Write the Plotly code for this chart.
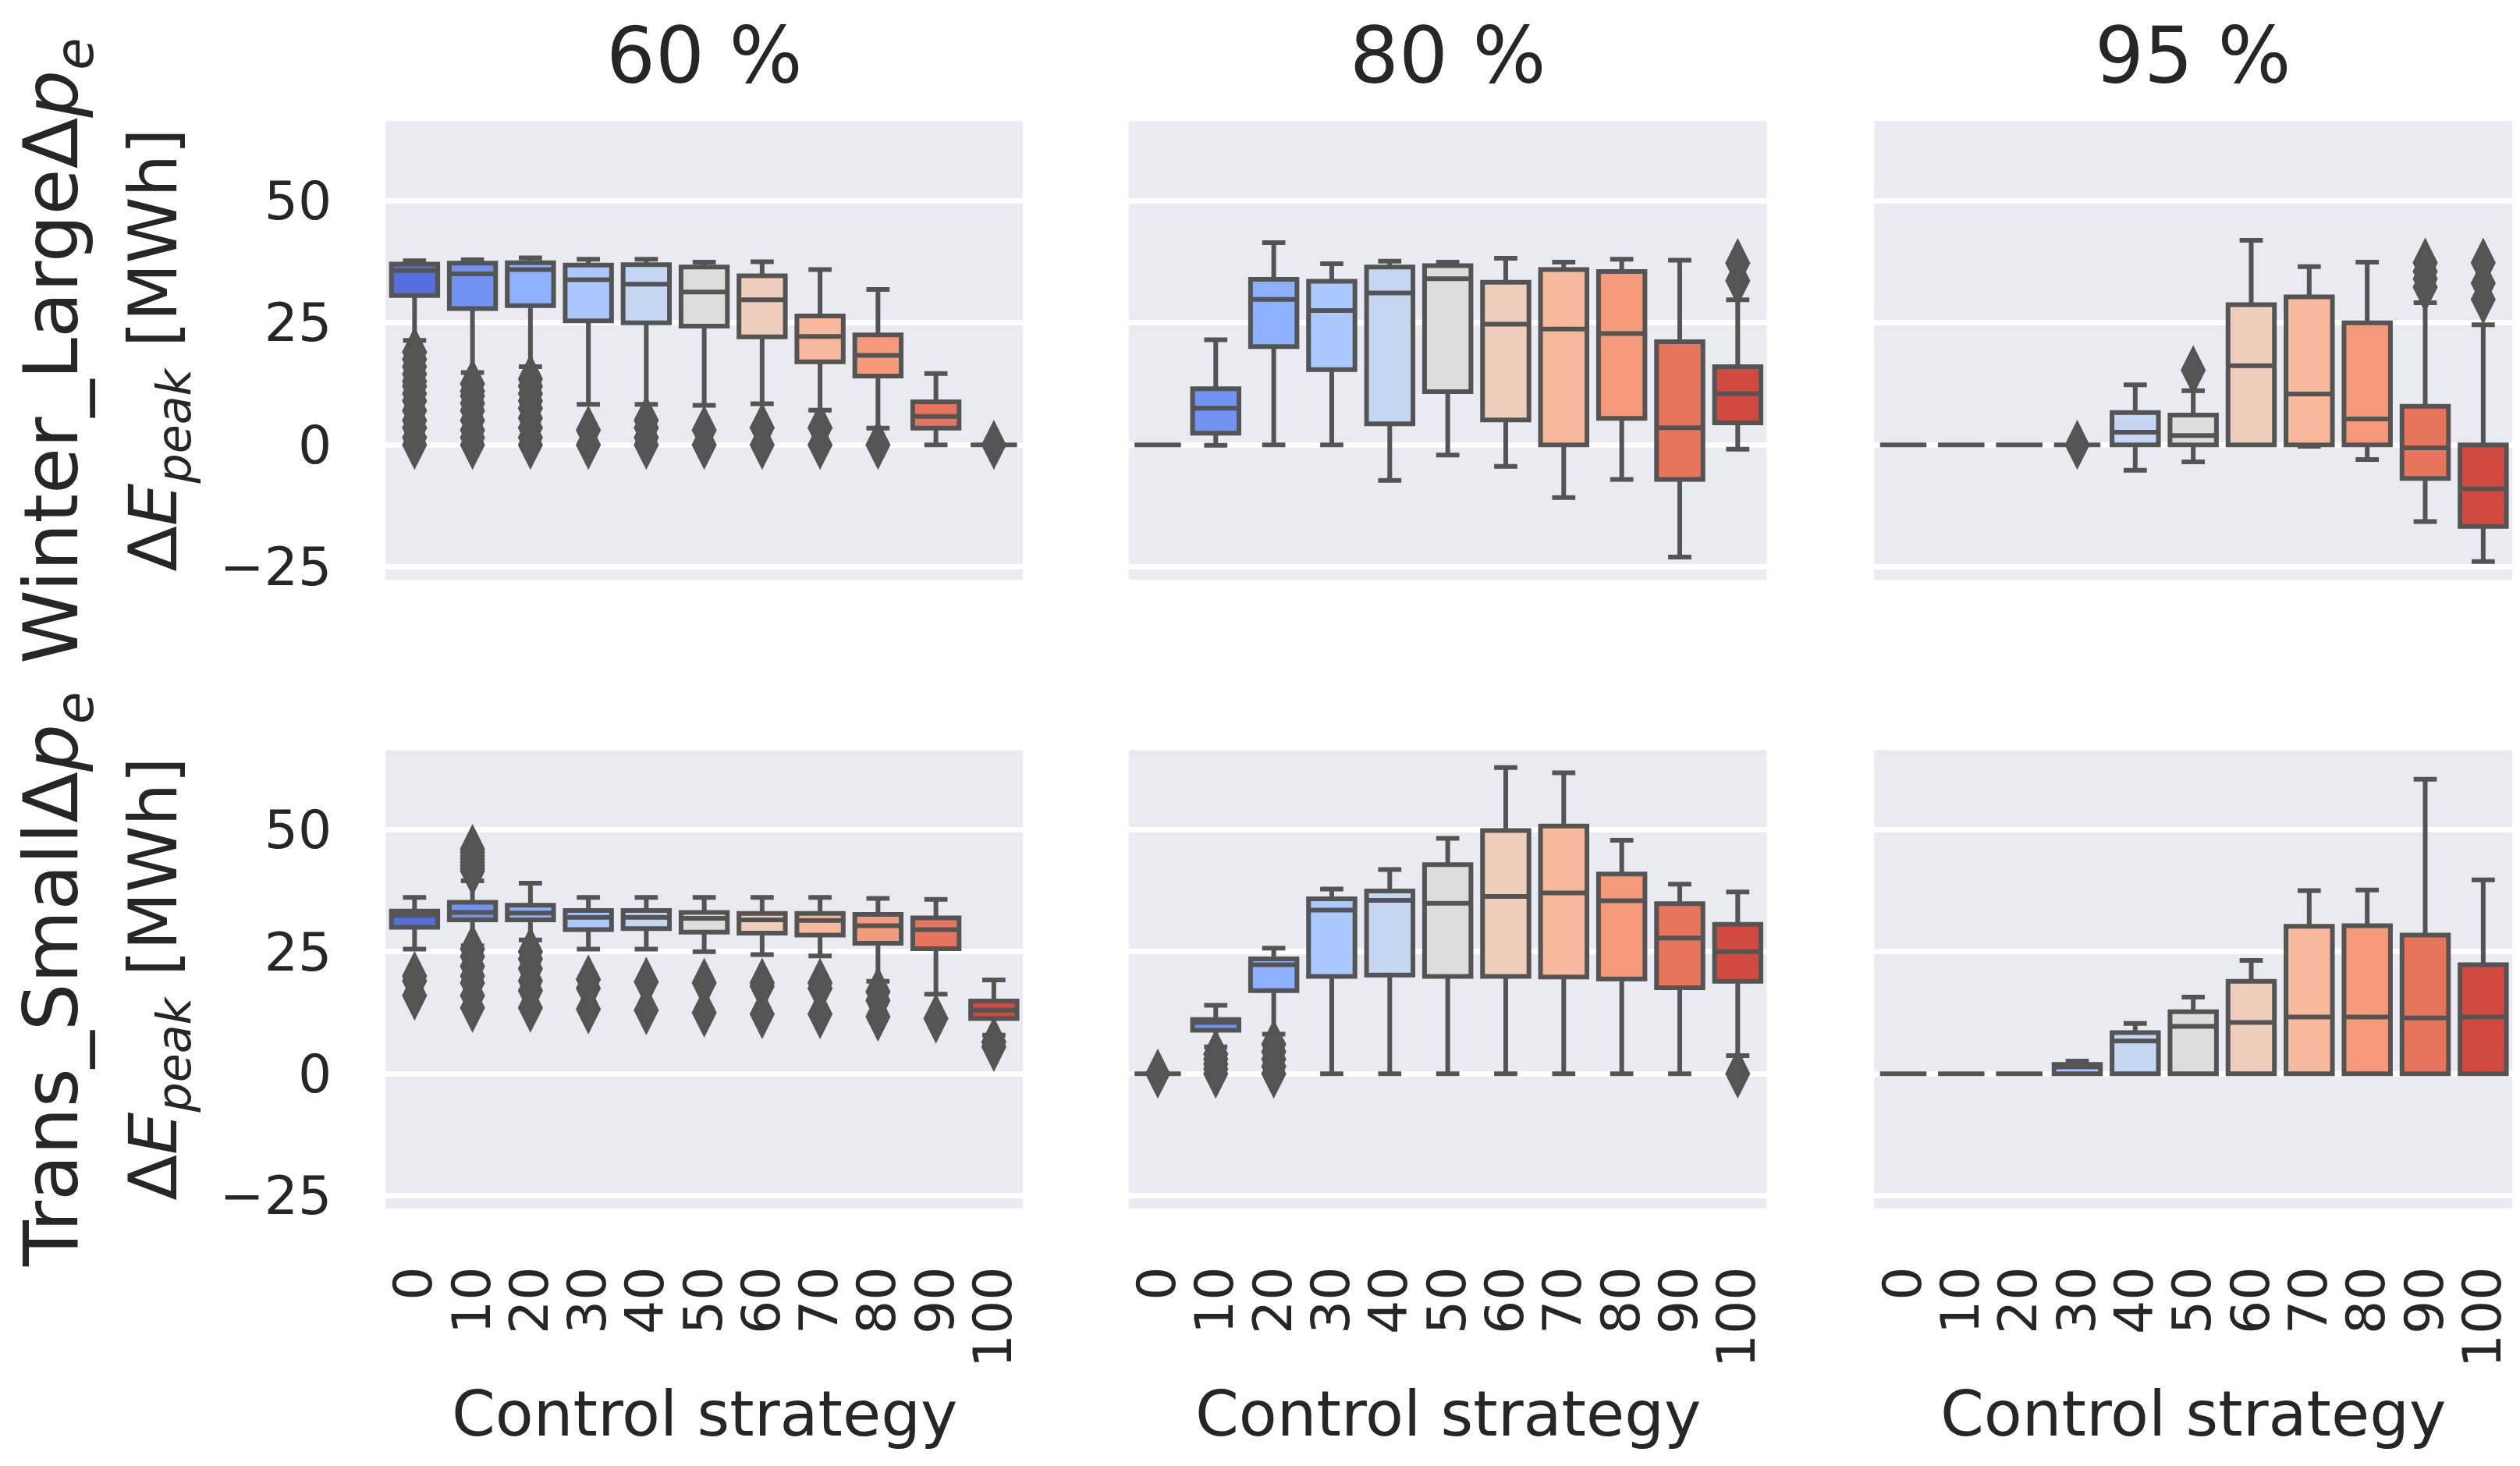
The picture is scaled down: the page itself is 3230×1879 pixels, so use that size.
import plotly.graph_objects as go

# ---------------- data ----------------
categories = ["0", "10", "20", "30", "40", "50", "60", "70", "80", "90", "100"]
col_titles = ["60 %", "80 %", "95 %"]
row_labels = ["Winter_LargeΔ<i>p</i><sub><i>e</i></sub>",
              "Trans_SmallΔ<i>p</i><sub><i>e</i></sub>"]
y_label = "Δ<i>E</i><sub><i>peak</i></sub> [MWh]"
x_label = "Control strategy"
y_tickvals = [-25, 0, 25, 50]
y_ticktext = ["\u221225", "0", "25", "50"]

palette = ["#5470DE", "#7092F3", "#8DB0FE", "#AAC7FE", "#C5D6F2", "#DDDDDD",
           "#EFCEBD", "#F7B89C", "#F49A7B", "#E7755C", "#D24A3F"]

# Winter_Large, 60 %
wl60_lo = [21.4, 14.8, 16.0, 8.3, 8.3, 8.1, 8.4, 7.1, 3.4, 0, 0]
wl60_q1 = [30.6, 27.9, 28.5, 25.4, 25.0, 24.3, 22.1, 17.0, 14.1, 3.4, 0]
wl60_med = [35.7, 35.0, 35.9, 33.8, 32.9, 31.3, 29.7, 22.2, 18.3, 5.8, 0]
wl60_q3 = [37.0, 37.2, 37.3, 36.8, 36.9, 36.4, 34.6, 26.4, 22.5, 8.8, 0]
wl60_hi = [37.7, 37.9, 38.3, 38.0, 38.0, 37.4, 37.5, 35.9, 31.8, 14.6, 0]
wl60_out = [[19, 17.5, 16, 14.5, 13, 12, 10.5, 9, 7, 5, 3.5, 1.5, 0],
            [12.5, 11, 10, 8.5, 7, 5, 3, 1.5, 0],
            [13.5, 12, 10.5, 9, 7.5, 5.5, 3.5, 1.5, 0],
            [3, 0], [5, 3.5, 1.5, 0], [3, 0], [3.5, 0], [3.5, 0], [0], [], [0]]

# Winter_Large, 80 %
wl80_lo = [0, -0.1, 0, 0, -7.3, -2.1, -4.4, -10.8, -7.1, -23.0, -0.9]
wl80_q1 = [0, 2.4, 20.1, 15.4, 4.3, 10.9, 5.1, 0, 5.4, -7.1, 4.5]
wl80_med = [0, 7.5, 29.8, 27.5, 31.1, 34.0, 24.7, 23.7, 22.8, 3.5, 10.5]
wl80_q3 = [0, 11.5, 33.9, 33.5, 36.4, 36.7, 33.3, 35.9, 35.5, 21.1, 16.0]
wl80_hi = [0, 21.5, 41.4, 37.1, 37.6, 37.4, 38.2, 37.4, 38.0, 37.8, 29.7]
wl80_out = [[], [], [], [], [], [], [], [], [], [], [37.2, 33.6]]

# Winter_Large, 95 %
wl95_lo = [0, 0, 0, 0, -5.2, -3.5, 0, -0.3, -3.0, -15.7, -23.9]
wl95_q1 = [0, 0, 0, 0, 0, 0, 0, 0, 0, -6.9, -16.7]
wl95_med = [0, 0, 0, 0, 2.6, 1.9, 16.2, 10.4, 5.3, -0.6, -9.0]
wl95_q3 = [0, 0, 0, 0, 6.6, 6.1, 28.7, 30.3, 25.0, 7.9, 0]
wl95_hi = [0, 0, 0, 0, 12.3, 11.1, 41.9, 36.5, 37.4, 29.1, 24.6]
wl95_out = [[], [], [], [0], [], [15.3], [], [], [],
            [37.3, 35.5, 34.0, 32.3], [37.3, 33.1, 29.8]]

# Trans_Small, 60 %
ts60_lo = [25.5, 26.2, 27.4, 25.5, 25.5, 25.0, 24.4, 24.1, 18.9, 16.3, 7.9]
ts60_q1 = [30.0, 31.5, 31.5, 29.5, 29.7, 29.0, 28.8, 28.4, 26.7, 25.6, 11.3]
ts60_med = [32.4, 33.0, 32.9, 32.0, 32.0, 31.8, 31.5, 31.4, 30.3, 29.5, 13.0]
ts60_q3 = [33.3, 35.1, 34.5, 33.4, 33.4, 33.0, 32.8, 32.8, 32.6, 31.9, 14.9]
ts60_hi = [36.1, 39.5, 39.0, 36.1, 36.1, 36.1, 36.1, 36.1, 35.9, 35.7, 19.2]
ts60_out = [[20, 19, 16],
            [46, 45.3, 44.6, 44, 43.3, 42.6, 42, 41.5, 25.5, 24, 22, 20, 18.6, 16, 13.5],
            [25, 23.5, 21.5, 19, 17, 13.5],
            [19.3, 17.5, 13.2], [18.8, 13], [18.6, 12.5], [18.6, 17.9, 12.2],
            [18.6, 17.5, 12.2], [16.8, 15, 11.7], [11.3], [6.5, 5.5]]

# Trans_Small, 80 %
ts80_lo = [0, 5.5, 8.1, 0, 0, 0, 0, 0, 0, 0, 3.7]
ts80_q1 = [0, 8.9, 17.0, 19.9, 20.2, 19.9, 19.9, 19.8, 19.4, 17.6, 18.9]
ts80_med = [0, 10.5, 22.3, 33.5, 35.5, 34.9, 36.3, 37.0, 35.4, 27.8, 25.0]
ts80_q3 = [0, 11.1, 23.5, 35.8, 37.4, 42.8, 49.8, 50.7, 40.9, 34.8, 30.6]
ts80_hi = [0, 14.0, 25.7, 37.8, 41.8, 48.2, 62.7, 61.6, 47.8, 38.8, 37.2]
ts80_out = [[0], [4, 3, 2, 1, 0], [6, 4.5, 3, 1.5, 0], [], [], [], [], [], [], [], [0]]

# Trans_Small, 95 %
ts95_lo = [0, 0, 0, 0, 0, 0, 0, 0, 0, 0, 0]
ts95_q1 = [0, 0, 0, 0, 0, 0, 0, 0, 0, 0, 0]
ts95_med = [0, 0, 0, 1.4, 6.7, 9.7, 10.5, 11.6, 11.6, 11.4, 11.6]
ts95_q3 = [0, 0, 0, 1.9, 8.4, 12.7, 18.9, 30.2, 30.3, 28.4, 22.3]
ts95_hi = [0, 0, 0, 2.6, 10.3, 15.7, 23.2, 37.5, 37.6, 60.3, 39.7]
ts95_out = [[], [], [], [], [], [], [], [], [], [], []]

panels = [
    [(wl60_lo, wl60_q1, wl60_med, wl60_q3, wl60_hi, wl60_out),
     (wl80_lo, wl80_q1, wl80_med, wl80_q3, wl80_hi, wl80_out),
     (wl95_lo, wl95_q1, wl95_med, wl95_q3, wl95_hi, wl95_out)],
    [(ts60_lo, ts60_q1, ts60_med, ts60_q3, ts60_hi, ts60_out),
     (ts80_lo, ts80_q1, ts80_med, ts80_q3, ts80_hi, ts80_out),
     (ts95_lo, ts95_q1, ts95_med, ts95_q3, ts95_hi, ts95_out)],
]

# ---------------- layout geometry (pixels) ----------------
W, H = 3230, 1879
col_px = [(483, 1301), (1437, 2256), (2394, 3213)]
row_px = [(149, 744), (965, 1560)]
y_range = [-27.6, 66.3]

GRAY = "#545454"
TEXT = "#262626"
FONT = "DejaVu Sans"

fig = go.Figure()
layout = dict(
    width=W, height=H, autosize=False,
    margin=dict(l=0, r=0, t=0, b=0),
    paper_bgcolor="white", plot_bgcolor="#EAEAF2",
    font=dict(family=FONT, color=TEXT, size=68),
    showlegend=False, boxmode="overlay",
)

annotations = []
for r in range(2):
    for c in range(3):
        k = r * 3 + c
        sx = "" if k == 0 else str(k + 1)
        xname, yname = "x" + sx, "y" + sx
        lo, q1, med, q3, hi, out = panels[r][c]
        for i, cat in enumerate(categories):
            fig.add_trace(go.Box(
                x=[cat], q1=[q1[i]], median=[med[i]], q3=[q3[i]],
                lowerfence=[lo[i]], upperfence=[hi[i]],
                width=0.8, whiskerwidth=0.5,
                fillcolor=palette[i], line=dict(color=GRAY, width=6),
                boxpoints=False, hoverinfo="skip",
                xaxis=xname, yaxis=yname,
            ))
        for i, cat in enumerate(categories):
            if out[i]:
                fig.add_trace(go.Scatter(
                    x=[cat] * len(out[i]), y=out[i], mode="markers",
                    marker=dict(symbol="diamond-tall", size=46, color=GRAY,
                                line=dict(width=0)),
                    hoverinfo="skip", xaxis=xname, yaxis=yname,
                ))
        x0, x1 = col_px[c]
        y0, y1 = row_px[r]
        layout["xaxis" + sx] = dict(
            domain=[x0 / W, x1 / W], anchor=yname,
            type="category", categoryorder="array", categoryarray=categories,
            tickmode="array", tickvals=categories, ticktext=categories,
            range=[-0.5, 10.5], showgrid=False, zeroline=False, showline=False,
            ticks="", tickangle=-90, tickfont=dict(size=68, color=TEXT),
            showticklabels=(r == 1), ticklabelstandoff=60,
        )
        layout["yaxis" + sx] = dict(
            domain=[1 - y1 / H, 1 - y0 / H], anchor=xname,
            range=y_range, tickmode="array", tickvals=y_tickvals, ticktext=y_ticktext,
            showgrid=True, gridcolor="white", gridwidth=6.7,
            zeroline=False, showline=False, ticks="",
            tickfont=dict(size=68, color=TEXT),
            showticklabels=(c == 0), ticklabelstandoff=68,
        )
        if r == 0:
            annotations.append(dict(
                text=col_titles[c], x=(x0 + x1) / 2 / W, y=1 - 64 / H,
                xref="paper", yref="paper", xanchor="center", yanchor="middle",
                showarrow=False, font=dict(size=99, color=TEXT, family=FONT)))
        else:
            annotations.append(dict(
                text=x_label, x=(x0 + x1) / 2 / W, y=1 - 1827 / H,
                xref="paper", yref="paper", xanchor="center", yanchor="middle",
                showarrow=False, font=dict(size=80, color=TEXT, family=FONT)))
    yc = 1 - (row_px[r][0] + row_px[r][1]) / 2 / H
    annotations.append(dict(
        text=row_labels[r], x=60 / W, y=yc, xref="paper", yref="paper",
        xanchor="center", yanchor="middle", textangle=-90, showarrow=False,
        font=dict(size=96, color=TEXT, family=FONT)))
    annotations.append(dict(
        text=y_label, x=190 / W, y=yc, xref="paper", yref="paper",
        xanchor="center", yanchor="middle", textangle=-90, showarrow=False,
        font=dict(size=86, color=TEXT, family=FONT)))

layout["annotations"] = annotations
fig.update_layout(**layout)
fig.write_html("out.html")
